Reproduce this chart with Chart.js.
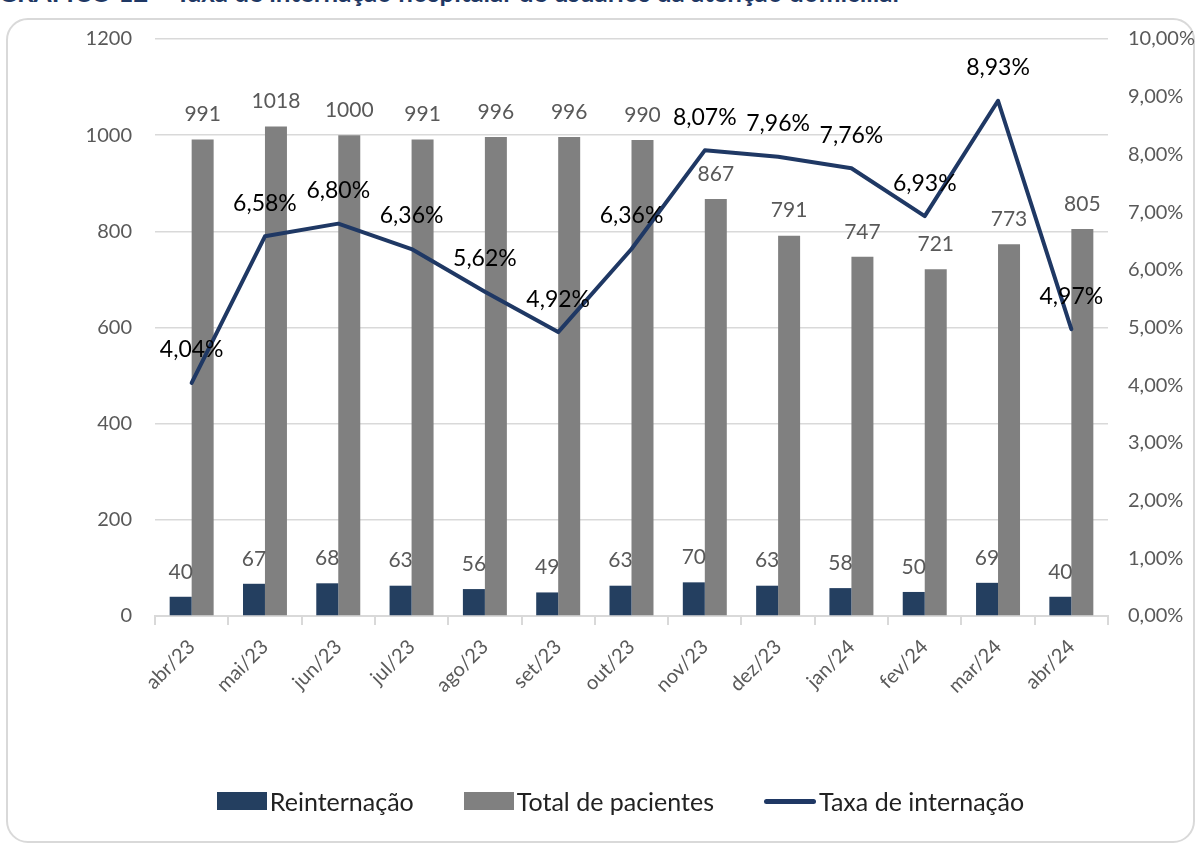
<!DOCTYPE html>
<html lang="pt-BR">
<head>
<meta charset="utf-8">
<title>Taxa de internação hospitalar</title>
<script src="https://cdn.jsdelivr.net/npm/chart.js@4/dist/chart.umd.min.js"></script>
<style>
    body { margin: 0; background: #fff; width: 1203px; height: 861px; overflow: hidden; position: relative; font-family: Lato, "Open Sans", sans-serif; }
    #titulo { position: absolute; left: -2px; top: -21px; font: bold 26px/26px Lato, sans-serif; color: #1F3864; white-space: nowrap; }
    #moldura { position: absolute; left: 6px; top: 18px; width: 1189px; height: 825px; border: 2px solid #d9d9d9; border-radius: 22px; box-sizing: border-box; }
    #grafico { position: absolute; left: 0; top: 0; }
    #legenda { position: absolute; top: 786px; left: 19px; width: 1203px; display: flex; justify-content: center; font-size: 25px; color: #222; }
    .item { display: flex; align-items: center; margin: 0 25px; }
    .caixa { width: 50px; height: 18px; margin-right: 3px; }
    .linha { width: 52px; height: 5px; border-radius: 3px; background: #1F3864; margin-right: 3px; }
</style>
</head>
<body>
<div id="titulo">GRÁFICO 12 – Taxa de internação hospitalar de usuários da atenção domiciliar</div>
<div id="moldura"></div>
<canvas id="grafico" width="1203" height="861"></canvas>
<div id="legenda">
    <div class="item"><div class="caixa" style="background:#243F60"></div>Reinternação</div>
    <div class="item"><div class="caixa" style="background:#808080"></div>Total de pacientes</div>
    <div class="item"><div class="linha"></div>Taxa de internação</div>
</div>
<script>
// Dados
const meses = ["abr/23", "mai/23", "jun/23", "jul/23", "ago/23", "set/23", "out/23", "nov/23", "dez/23", "jan/24", "fev/24", "mar/24", "abr/24"];
const reinternacao = [40, 67, 68, 63, 56, 49, 63, 70, 63, 58, 50, 69, 40];
const totalPacientes = [991, 1018, 1000, 991, 996, 996, 990, 867, 791, 747, 721, 773, 805];
const taxaInternacao = [4.04, 6.58, 6.80, 6.36, 5.62, 4.92, 6.36, 8.07, 7.96, 7.76, 6.93, 8.93, 4.97];

const fmtPct = v => v.toFixed(2).replace('.', ',') + '%';

// Rótulos de dados (sem plugin externo)
const rotulos = {
    id: 'rotulos',
    afterDatasetsDraw(chart) {
        const ctx = chart.ctx;
        ctx.save();
        ctx.textAlign = 'center';
        ctx.textBaseline = 'middle';
        chart.data.datasets.forEach((ds, i) => {
            const meta = chart.getDatasetMeta(i);
            meta.data.forEach((el, j) => {
                const v = ds.data[j];
                if (ds.type === 'line') {
                    ctx.font = '23px Lato, sans-serif';
                    ctx.fillStyle = '#000';
                    ctx.fillText(fmtPct(v), el.x, el.y - 33);
                } else {
                    ctx.font = '21px Lato, sans-serif';
                    ctx.fillStyle = '#595959';
                    ctx.fillText(String(v), el.x, el.y - 25);
                }
            });
        });
        ctx.restore();
    }
};

const ctx = document.getElementById('grafico').getContext('2d');
new Chart(ctx, {
    data: {
        labels: meses,
        datasets: [
            {
                type: 'line',
                label: 'Taxa de internação',
                data: taxaInternacao,
                yAxisID: 'y1',
                borderColor: '#1F3864',
                borderWidth: 4,
                borderJoinStyle: 'round',
                borderCapStyle: 'round',
                pointRadius: 0,
                tension: 0,
                order: 0
            },
            {
                type: 'bar',
                label: 'Reinternação',
                data: reinternacao,
                yAxisID: 'y',
                backgroundColor: '#243F60',
                categoryPercentage: 0.6,
                barPercentage: 1,
                order: 1
            },
            {
                type: 'bar',
                label: 'Total de pacientes',
                data: totalPacientes,
                yAxisID: 'y',
                backgroundColor: '#808080',
                categoryPercentage: 0.6,
                barPercentage: 1,
                order: 1
            }
        ]
    },
    options: {
        responsive: false,
        animation: false,
        layout: { padding: { top: 39, left: 0, right: 0, bottom: 0 } },
        plugins: {
            legend: { display: false },
            tooltip: { enabled: false }
        },
        scales: {
            x: {
                afterFit: s => { s.height = 245; },
                grid: { drawOnChartArea: false, color: '#d9d9d9', tickLength: 9, lineWidth: 2 },
                border: { color: '#d9d9d9', width: 2 },
                ticks: {
                    color: '#595959',
                    font: { size: 20, family: 'Lato' },
                    minRotation: 45,
                    maxRotation: 45,
                    padding: 10
                }
            },
            y: {
                position: 'left',
                min: 0,
                max: 1200,
                afterFit: s => { s.width = 155; },
                grid: { color: '#d9d9d9', lineWidth: 1.5, drawTicks: false },
                border: { display: false },
                ticks: {
                    stepSize: 200,
                    color: '#595959',
                    font: { size: 20, family: 'Lato' },
                    padding: 23,
                    callback: v => String(v)
                }
            },
            y1: {
                position: 'right',
                min: 0,
                max: 10,
                afterFit: s => { s.width = 95; },
                grid: { display: false, drawTicks: false },
                border: { display: false },
                ticks: {
                    stepSize: 1,
                    color: '#595959',
                    font: { size: 20, family: 'Lato' },
                    padding: 20,
                    callback: v => fmtPct(v)
                }
            }
        }
    },
    plugins: [rotulos]
});
</script>
</body>
</html>
